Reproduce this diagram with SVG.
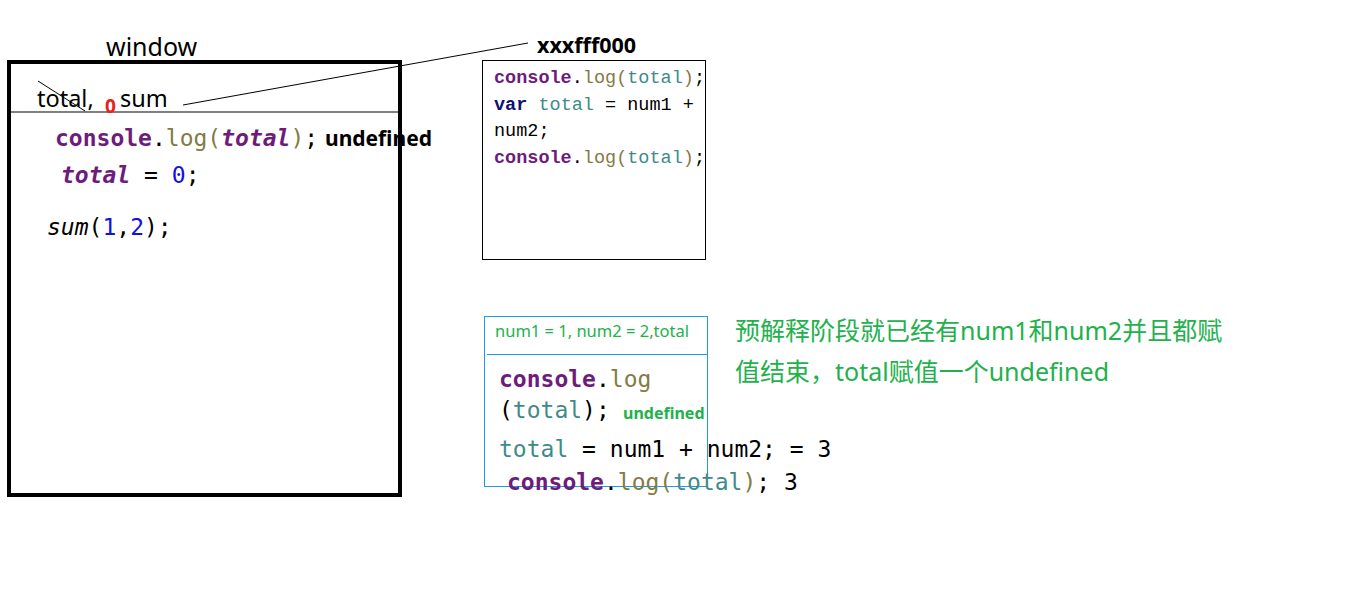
<svg xmlns="http://www.w3.org/2000/svg" width="1360" height="591" viewBox="0 0 1360 591">
<style>
.sans{font-family:"Noto Sans","Liberation Sans",sans-serif}
.mono{font-family:"DejaVu Sans Mono","Liberation Mono",monospace;font-size:23px;fill:#000}
.smono{font-family:"Liberation Mono","DejaVu Sans Mono",monospace;font-size:18.5px;fill:#000}
.cjk{font-family:"Noto Sans","Noto Sans CJK SC",sans-serif;fill:#22b14c;font-size:25px}
.pur{fill:#6e1c7c;font-weight:bold}
.olv{fill:#857a45}
.teal{fill:#3f8a8a}
.blue{fill:#1010e0}
.navy{fill:#10106e;font-weight:bold}
.thin{stroke:#000;stroke-width:1;fill:none}
</style>
<rect width="1360" height="591" fill="#fff"/>
<g id="window">
<text class="sans" x="106" y="56" font-size="25">window</text>
<rect x="9" y="62" width="391" height="433" fill="none" stroke="#000" stroke-width="4"/>
<line x1="10" y1="112" x2="398" y2="112" class="thin"/>
<text class="sans" x="37" y="107" font-size="23.5">total,</text>
<text class="sans" x="105" y="113" font-size="19" font-weight="bold" fill="#e82020">0</text>
<text class="sans" x="120" y="107" font-size="23.5">sum</text>
<line x1="38" y1="81" x2="85" y2="111" class="thin"/>
<text class="mono" x="55" y="146"><tspan class="pur">console</tspan>.<tspan class="olv">log(</tspan><tspan class="pur" font-style="italic">total</tspan><tspan class="olv">)</tspan>;</text>
<text class="sans" x="325" y="146" font-size="21" font-weight="bold">undefined</text>
<text class="mono" x="61" y="183"><tspan class="pur" font-style="italic">total</tspan> = <tspan class="blue">0</tspan>;</text>
<text class="mono" x="47" y="235"><tspan font-style="italic">sum</tspan>(<tspan class="blue">1</tspan>,<tspan class="blue">2</tspan>);</text>
</g>
<g id="connectors">
<line x1="183" y1="105" x2="528" y2="43" class="thin"/>
</g>
<g id="heap">
<text class="sans" x="537" y="53" font-size="21.5" font-weight="bold">xxxfff000</text>
<rect x="482.5" y="60.5" width="223" height="199" class="thin"/>
<text class="smono" x="494" y="83"><tspan class="pur">console</tspan>.<tspan class="olv">log(</tspan><tspan class="teal">total</tspan><tspan class="olv">)</tspan>;</text>
<text class="smono" x="494" y="110"><tspan class="navy">var</tspan> <tspan class="teal">total</tspan> = num1 +</text>
<text class="smono" x="494" y="136">num2;</text>
<text class="smono" x="494" y="163"><tspan class="pur">console</tspan>.<tspan class="olv">log(</tspan><tspan class="teal">total</tspan><tspan class="olv">)</tspan>;</text>
</g>
<g id="scope">
<rect x="484.5" y="316.5" width="223" height="170" fill="none" stroke="#1a9ee0" stroke-width="1"/>
<line x1="487" y1="354.5" x2="708" y2="354.5" stroke="#1a9ee0" stroke-width="1"/>
<text class="sans" x="495" y="337" font-size="16.5" fill="#22b14c">num1 = 1, num2 = 2,total</text>
<text class="mono" x="499" y="387"><tspan class="pur">console</tspan>.<tspan class="olv">log</tspan></text>
<text class="mono" x="499" y="418">(<tspan class="teal">total</tspan>);</text>
<text class="sans" x="623" y="419" font-size="16" font-weight="bold" fill="#22b14c">undefined</text>
<text class="mono" x="499" y="457"><tspan class="teal">total</tspan> = num1 + num2; = 3</text>
<text class="mono" x="507" y="490"><tspan class="pur">console</tspan>.<tspan class="olv">log(</tspan><tspan class="teal">total</tspan><tspan class="olv">)</tspan>; 3</text>
</g>
<g id="note">
<text class="cjk" x="735" y="340">预解释阶段就已经有num1和num2并且都赋</text>
<text class="cjk" x="735" y="381">值结束，total赋值一个undefined</text>
</g>
</svg>
